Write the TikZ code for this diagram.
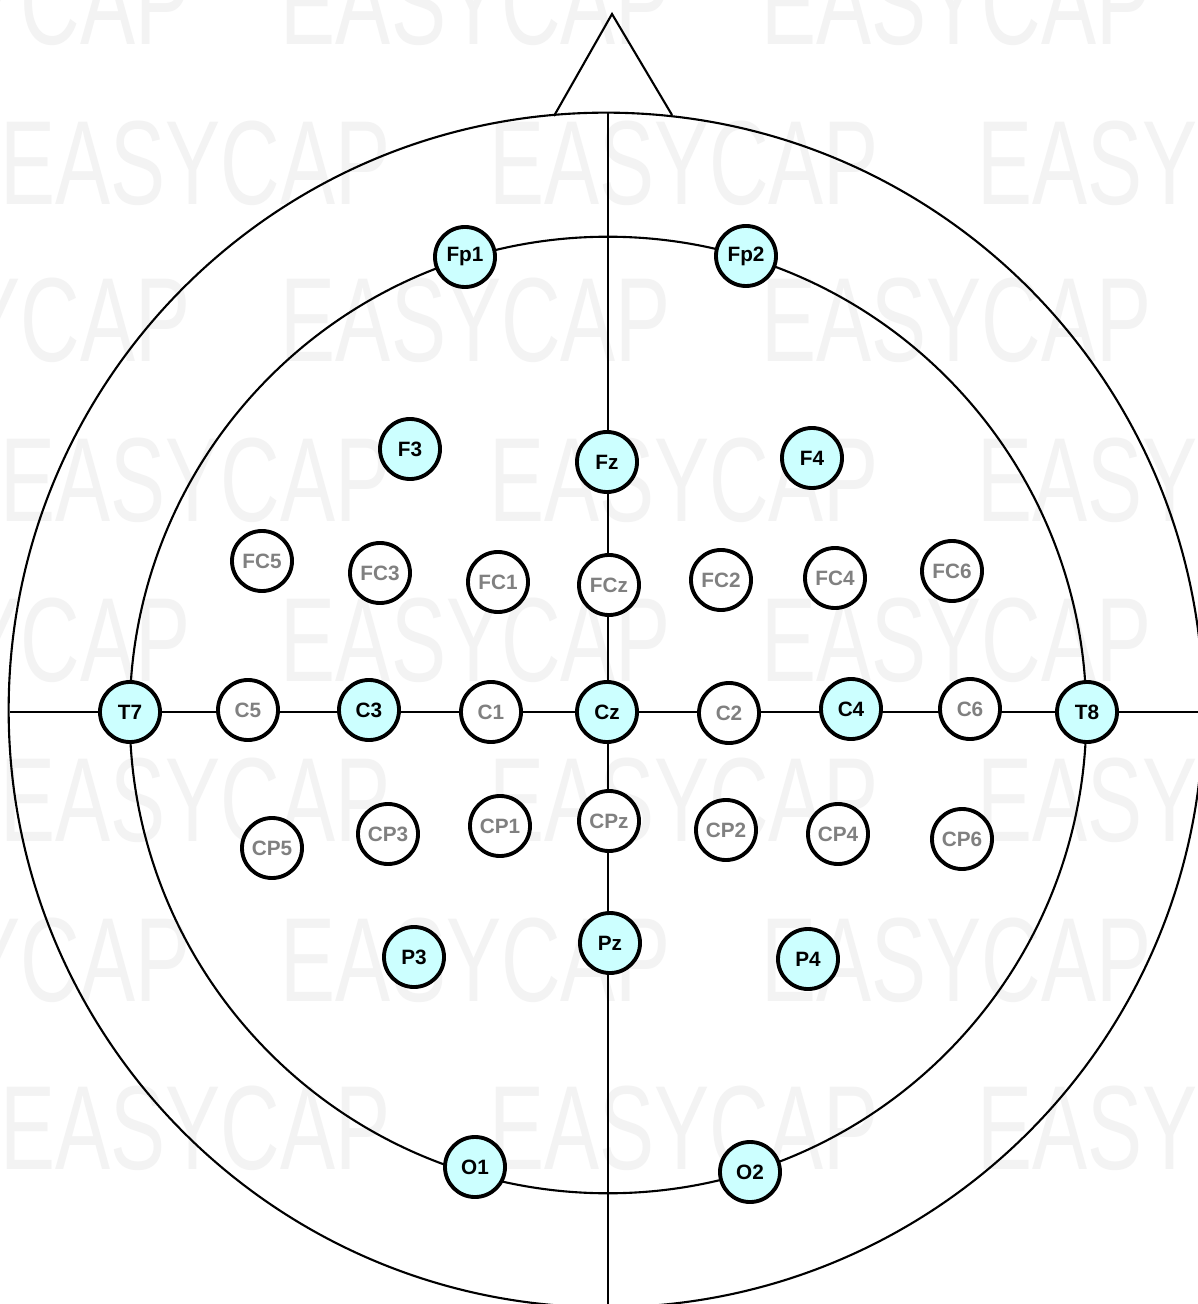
\documentclass[tikz,border=0pt]{standalone}
\usepackage{fontspec}
\setmainfont{Liberation Sans}
\usepackage{xcolor}
\usepackage{tikz}
\usetikzlibrary{positioning}

\definecolor{capcyan}{HTML}{CCFFFF}
\definecolor{labgray}{HTML}{808080}
\definecolor{wmgray}{HTML}{F3F3F3}

\begin{document}
\begin{tikzpicture}[x=0.01cm, y=-0.01cm,
    elec/.style={circle, draw, line width=1.1pt, minimum size=0.6cm, inner sep=0pt, fill=white, text=labgray, font=\fontsize{5.9}{6}\selectfont\bfseries},
    stdelec/.style={elec, fill=capcyan, text=black},
    wmark/.style={text=wmgray, font=\fontsize{34}{34}\selectfont, xscale=0.69, anchor=west, inner sep=0pt}]
    % Bildrahmen
    \useasboundingbox (0,0) rectangle (1198,1304);
    \clip (0,0) rectangle (1198,1304);
    \fill[white] (0,0) rectangle (1198,1304);

    % Wasserzeichen
    \foreach \yy in {163,480,800,1128}
        \node[wmark] at (0,\yy) {EASYCAP\hspace{1.2em}EASYCAP\hspace{1.2em}EASYCAP};
    \foreach \yy in {3,320,640,960}
        \node[wmark] at (-200,\yy) {EASYCAP\hspace{1.1em}EASYCAP\hspace{1.1em}EASYCAP};

    % Kopf und Nase
    \draw[line width=0.6pt] (606,710) circle[radius=5.97cm];
    \draw[line width=0.6pt] (608,715) circle[radius=4.78cm];
    \coordinate (noseL) at (554,116);
    \coordinate (noseT) at (612,14);
    \coordinate (noseR) at (672,115);
    \draw[line width=0.6pt] (noseL) -- (noseT) -- (noseR);

    % Mittellinien
    \coordinate (midT) at (608,112);
    \coordinate (midB) at (608,1304);
    \coordinate (midL) at (10,712);
    \coordinate (midR) at (1198,712);
    \draw[line width=0.6pt] (midT) -- (midB);
    \draw[line width=0.6pt] (midL) -- (midR);

    % 10-20 Elektroden (cyan)
    \foreach \n/\x/\y in {Fp1/465/257, Fp2/746/256, F3/410/449, Fz/607/462, F4/812/458,
        T7/130/712, C3/369/710, Cz/607/712, C4/851/709, T8/1087/712,
        P3/414/957, Pz/610/943, P4/808/959, O1/475/1167, O2/750/1172}
        \node[stdelec] (\n) at (\x,\y) {\n};

    % Zusatzelektroden (weiss)
    \foreach \n/\x/\y in {FC5/262/561, FC3/380/573, FC1/498/582, FCz/609/585, FC2/721/580, FC4/835/578, FC6/952/571,
        C5/248/710, C1/491/712, C2/729/713, C6/970/709,
        CP5/272/848, CP3/388/834, CP1/500/826, CPz/609/821, CP2/726/830, CP4/838/834, CP6/962/839}
        \node[elec] (\n) at (\x,\y) {\n};
\end{tikzpicture}
\end{document}
